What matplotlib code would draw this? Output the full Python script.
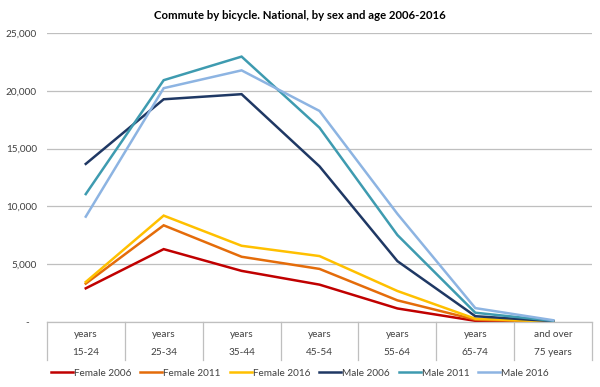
import matplotlib.pyplot as plt
import matplotlib.transforms as mtransforms
import numpy as np

plt.rcParams['font.family'] = ['Lato', 'DejaVu Sans']

age_top = ["years", "years", "years", "years", "years", "years", "and over"]
age_bottom = ["15-24", "25-34", "35-44", "45-54", "55-64", "65-74", "75 years"]

female_2006 = [2910, 6300, 4420, 3230, 1170, 100, 20]
female_2011 = [3320, 8360, 5640, 4590, 1870, 200, 25]
female_2016 = [3460, 9200, 6590, 5700, 2680, 280, 30]
male_2006 = [13670, 19260, 19700, 13460, 5260, 500, 70]
male_2011 = [11060, 20910, 22950, 16800, 7520, 800, 100]
male_2016 = [9110, 20220, 21760, 18250, 9350, 1200, 150]

series = [
    ("Female 2006", female_2006, '#C00000'),
    ("Female 2011", female_2011, '#E46C0A'),
    ("Female 2016", female_2016, '#FFC000'),
    ("Male 2006", male_2006, '#1F3864'),
    ("Male 2011", male_2011, '#3E9BB0'),
    ("Male 2016", male_2016, '#8DB4E2'),
]

fig = plt.figure(figsize=(6, 3.87), dpi=100)
ax = fig.add_axes([0.078, 0.168, 0.909, 0.747])

x = np.arange(len(age_bottom))
for name, vals, col in series:
    ax.plot(x, vals, color=col, lw=1.8, label=name, solid_joinstyle='miter')

ax.set_xlim(-0.5, len(x) - 0.5)
ax.set_ylim(0, 25000)
ax.set_yticks(np.arange(0, 25001, 5000))
ax.set_yticklabels(["-   " if v == 0 else f"{v:,}" for v in range(0, 25001, 5000)])
ax.tick_params(axis='y', length=0, pad=7, labelsize=7.2, colors='#404040')
ax.set_xticks([])
ax.grid(axis='y', color='#BFBFBF', lw=0.9)
ax.set_axisbelow(True)
for s in ['top', 'right', 'left']:
    ax.spines[s].set_visible(False)
ax.spines['bottom'].set_color('#BFBFBF')
ax.spines['bottom'].set_linewidth(0.9)

# table-like category axis
trans = mtransforms.blended_transform_factory(ax.transData, ax.transAxes)
for b in np.arange(-0.5, len(x), 1.0):
    ax.plot([b, b], [0, -0.131], transform=trans, color='#BFBFBF', lw=0.9, clip_on=False)
for i in x:
    ax.text(i, -0.045, age_top[i], transform=trans, ha='center', va='center', fontsize=7.2, color='#404040')
    ax.text(i, -0.107, age_bottom[i], transform=trans, ha='center', va='center', fontsize=7.2, color='#404040')

fig.suptitle("Commute by bicycle. National, by sex and age 2006-2016", x=0.5, y=0.975,
             fontsize=8.2, fontweight='bold', color='#000000')

fig.legend(loc='center', bbox_to_anchor=(0.5, 0.036), ncol=6, frameon=False, fontsize=7.2,
           handlelength=2.2, handletextpad=0.1, columnspacing=0.9, labelcolor='#404040')

fig.savefig('out.png', dpi=100)
